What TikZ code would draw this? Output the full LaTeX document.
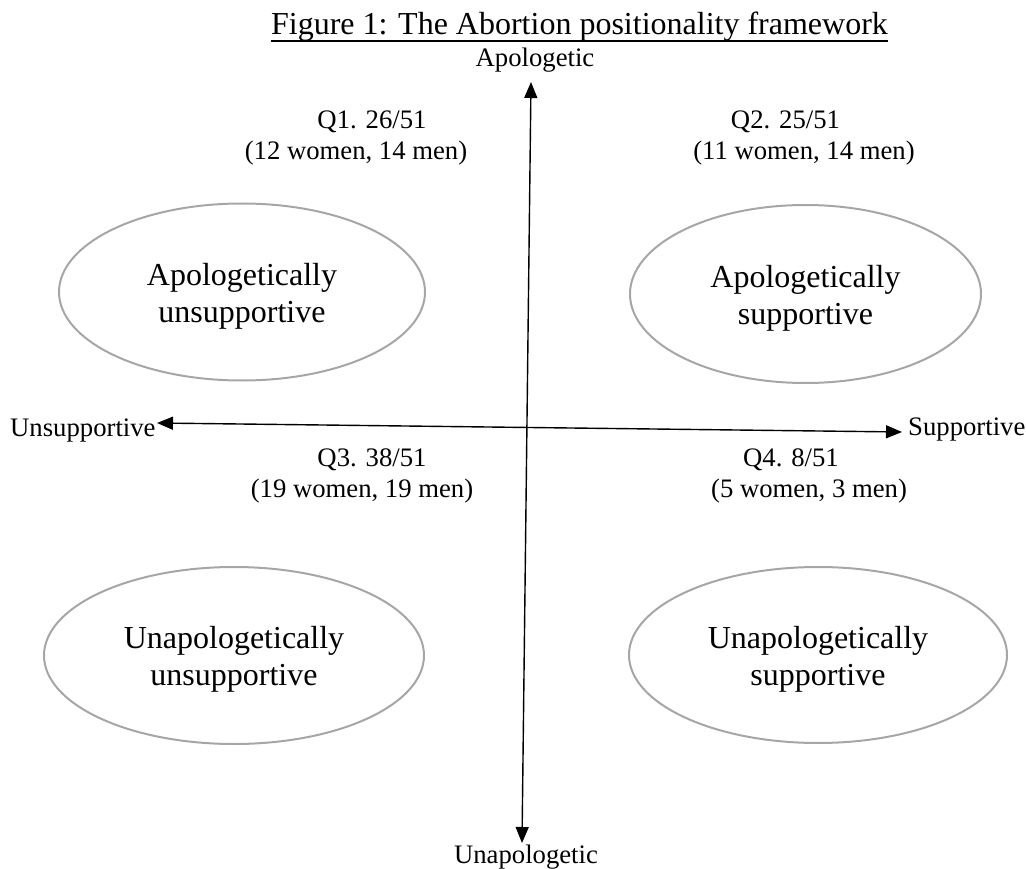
\documentclass[tikz,border=0pt]{standalone}
\usepackage{fontspec}
\setmainfont{Liberation Serif}
\usetikzlibrary{shapes.geometric,arrows.meta}
\definecolor{ellgray}{RGB}{166,166,166}
\tikzset{
  titletext/.style={inner sep=0pt, anchor=base, font=\fontsize{32}{37}\selectfont},
  axislabel/.style={inner sep=0pt, font=\fontsize{26.7}{32}\selectfont},
  qlabel/.style={inner sep=0pt, align=center, font=\fontsize{26.7}{31}\selectfont},
  quadrant/.style={ellipse, draw=ellgray, line width=2pt, inner sep=0pt, align=center,
     font=\fontsize{32}{37}\selectfont},
  axis/.style={line width=1.4pt, {Triangle[length=16pt,width=13pt]}-{Triangle[length=16pt,width=13pt]}}
}
\begin{document}
\begin{tikzpicture}[x=1pt,y=-1pt]
\useasboundingbox (0,0) rectangle (1026,869);
% title
\node[titletext] (title) at (579.5,35) {Figure 1: The Abortion positionality framework};
\draw[line width=2pt] ([yshift=-6pt]title.base west) -- ([yshift=-6pt]title.base east);
% axis labels
\node[axislabel, anchor=base] (apol) at (535,67) {Apologetic};
\node[axislabel, anchor=base] (unapol) at (526,863) {Unapologetic};
\node[axislabel, anchor=base west] (unsup) at (10,436) {Unsupportive};
\node[axislabel, anchor=base west] (sup) at (908,435) {Supportive};
% axis end points
\coordinate (vtop) at (531,82);
\coordinate (vbot) at (522,843);
\coordinate (hleft) at (157,423);
\coordinate (hright) at (902,432);
\draw[axis] (vbot) -- (vtop);
\draw[axis] (hleft) -- (hright);
% quadrant counts
\node[qlabel] (q1) at (356,138) {\hspace*{32pt}Q1. 26/51\\(12 women, 14 men)};
\node[qlabel] (q2) at (804,138) {Q2. 25/51\hspace*{37pt}\\(11 women, 14 men)};
\node[qlabel] (q3) at (362,476) {\hspace*{20pt}Q3. 38/51\\(19 women, 19 men)};
\node[qlabel] (q4) at (809,476) {Q4. 8/51\hspace*{36pt}\\(5 women, 3 men)};
% ellipses
\node[quadrant, minimum width=366pt, minimum height=177pt] (e1) at (242,292)
  {\rule{0pt}{30pt}Apologetically\\unsupportive};
\node[quadrant, minimum width=351pt, minimum height=178pt] (e2) at (805.5,294)
  {\rule{0pt}{30pt}Apologetically\\supportive};
\node[quadrant, minimum width=380pt, minimum height=177pt] (e3) at (234,655.5)
  {\rule{0pt}{30pt}Unapologetically\\unsupportive};
\node[quadrant, minimum width=378pt, minimum height=176pt] (e4) at (818,655)
  {\rule{0pt}{30pt}Unapologetically\\supportive};
\end{tikzpicture}
\end{document}
